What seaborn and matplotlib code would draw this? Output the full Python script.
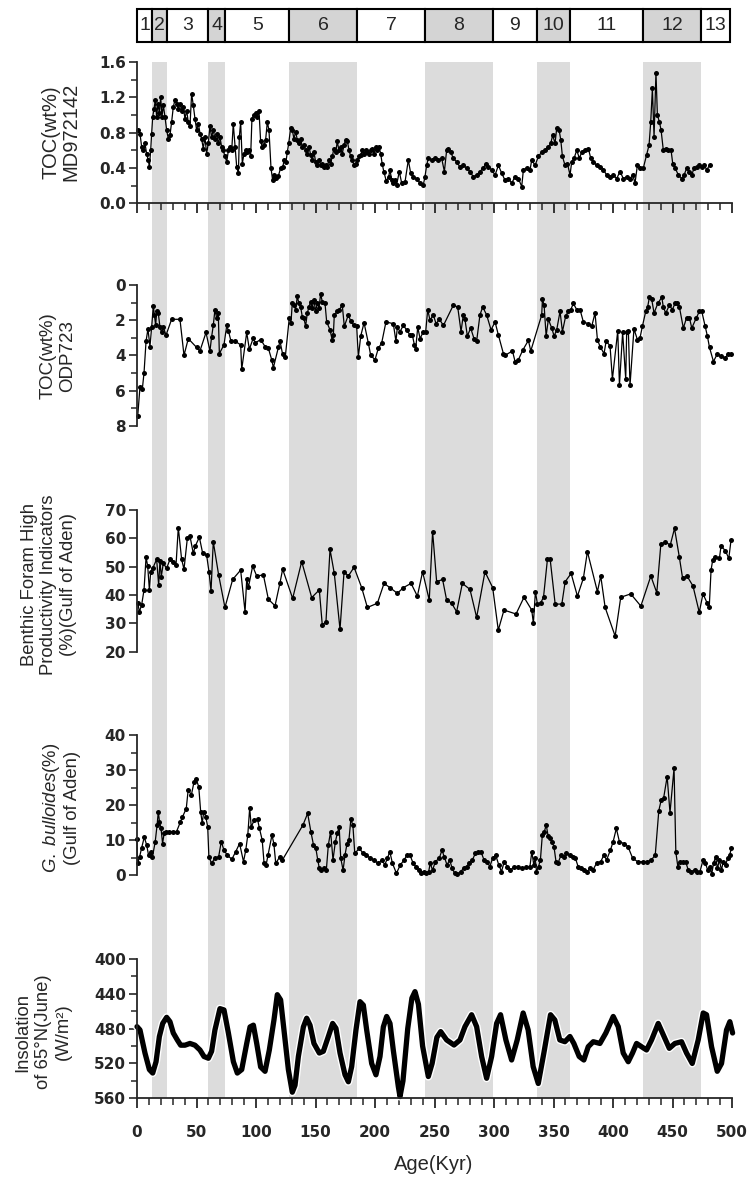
import numpy as np
import pandas as pd
import matplotlib
matplotlib.use("Agg")
import matplotlib.pyplot as plt
import matplotlib.patheffects as pe
from matplotlib.ticker import MultipleLocator
import seaborn as sns

# ---------------- data ----------------
stage_edges = [0, 13, 25, 60, 74, 128, 185, 242, 299, 336, 364, 425, 474, 498.5]
stage_labels = ["1", "2", "3", "4", "5", "6", "7", "8", "9", "10", "11", "12", "13"]
glacial_bands = [(13, 25), (60, 74), (128, 185), (242, 299), (336, 364), (425, 474)]

toc_md_age = [1.1, 2.5, 3.9, 5.3, 6.7, 8.1, 9.5, 10.4, 11.5, 12.3, 13.2, 14.3, 15.4, 16.5, 17.6, 18.8, 19.9, 21.0, 22.1, 23.5,
              24.9, 26.3, 27.7, 29.1, 30.5, 31.9, 33.3, 34.7, 36.1, 37.5, 38.9, 40.3, 41.7, 43.1, 44.5, 45.9, 47.3, 48.7, 50.1,
              51.5, 53.0, 54.3, 55.7, 57.1, 58.5, 59.9, 61.3, 62.7, 64.1, 65.5, 66.9, 68.3, 69.7, 71.1, 72.5, 73.9, 75.4, 76.8,
              78.2, 79.6, 80.9, 82.4, 83.8, 85.2, 86.0, 87.1, 88.5, 89.9, 91.3, 92.7, 94.1, 95.5, 96.6, 98.3, 100.0, 101.1,
              102.5, 103.9, 105.3, 106.7, 108.1, 109.5, 110.9, 112.6, 114.0, 115.4, 116.8, 118.8, 120.7, 122.4, 123.8, 125.2,
              126.3, 127.5, 129.1, 130.5, 131.9, 133.3, 134.7, 136.1, 137.5, 138.9, 140.3, 141.7, 143.1, 144.5, 145.9, 147.3,
              148.7, 150.1, 151.5, 153.0, 154.3, 155.7, 157.1, 158.5, 159.9, 161.3, 162.7, 164.1, 165.5, 167.0, 168.3, 169.7,
              171.1, 172.5, 173.9, 175.4, 176.8, 178.2, 179.6, 181.0, 182.4, 183.8, 185.2, 186.6, 188.0, 189.4, 190.8, 192.2,
              193.6, 195.0, 196.4, 197.8, 199.2, 200.6, 202.0, 203.4, 204.8, 206.0, 207.4, 209.5, 211.5, 212.6, 214.0, 215.4,
              217.0, 218.2, 220.4, 222.4, 225.2, 228.0, 230.0, 232.2, 235.0, 237.8, 240.6, 242.0, 243.4, 244.8, 247.6, 250.4,
              253.2, 256.0, 258.3, 260.2, 261.6, 263.6, 265.8, 268.6, 271.4, 274.2, 277.0, 279.8, 282.6, 285.4, 288.2, 291.0,
              293.3, 295.2, 298.0, 300.9, 303.7, 306.5, 309.3, 312.1, 314.9, 317.7, 320.5, 323.3, 324.7, 327.5, 330.3, 331.7,
              334.5, 337.3, 340.1, 342.9, 345.7, 347.7, 349.3, 351.3, 352.7, 354.7, 356.1, 357.5, 359.7, 361.7, 363.9, 365.3,
              367.3, 369.5, 371.8, 373.7, 376.5, 379.3, 381.3, 383.5, 386.3, 389.1, 391.9, 394.7, 397.5, 400.3, 403.1, 405.9,
              408.7, 411.5, 414.3, 416.6, 418.5, 420.5, 422.7, 425.5, 428.3, 430.3, 431.7, 433.1, 434.5, 436.1, 437.3, 439.0,
              440.4, 442.3, 444.3, 446.5, 448.8, 450.2, 452.1, 455.0, 457.8, 459.7, 462.0, 464.2, 466.2, 468.1, 470.4, 472.6,
              474.6, 476.6, 478.8, 481.1]
toc_md_val = [0.83, 0.79, 0.64, 0.60, 0.68, 0.56, 0.49, 0.41, 0.60, 0.79, 0.98, 1.07, 1.17, 0.98, 1.13, 1.02, 1.20, 0.98, 1.11, 0.98,
              0.83, 0.73, 0.77, 0.92, 1.09, 1.17, 1.13, 1.07, 1.13, 1.05, 1.09, 0.96, 1.05, 0.92, 0.87, 1.24, 1.11, 0.96, 0.83,
              0.90, 0.79, 0.73, 0.62, 0.75, 0.56, 0.68, 0.87, 0.75, 0.83, 0.73, 0.79, 0.68, 0.75, 0.64, 0.60, 0.53, 0.47, 0.60,
              0.64, 0.60, 0.90, 0.64, 0.41, 0.34, 0.75, 0.92, 0.45, 0.56, 0.60, 0.58, 0.60, 0.53, 0.96, 1.00, 1.02, 0.98,
              1.05, 0.70, 0.64, 0.66, 0.72, 0.92, 0.83, 0.40, 0.26, 0.32, 0.29, 0.31, 0.40, 0.41, 0.49, 0.47,
              0.58, 0.68, 0.85, 0.83, 0.73, 0.81, 0.72, 0.68, 0.73, 0.64, 0.66, 0.60, 0.56, 0.64, 0.55, 0.49,
              0.58, 0.47, 0.43, 0.49, 0.43, 0.45, 0.41, 0.43, 0.41, 0.49, 0.45, 0.53, 0.62, 0.58, 0.70, 0.60,
              0.64, 0.56, 0.66, 0.72, 0.70, 0.60, 0.53, 0.49, 0.43, 0.45, 0.49, 0.53, 0.55, 0.60, 0.56, 0.60,
              0.58, 0.56, 0.60, 0.62, 0.56, 0.64, 0.60, 0.64, 0.56, 0.45, 0.36, 0.25, 0.30, 0.38, 0.26, 0.23,
              0.26, 0.21, 0.36, 0.23, 0.24, 0.49, 0.34, 0.30, 0.28, 0.23, 0.21, 0.30, 0.43, 0.51, 0.49, 0.51,
              0.49, 0.51, 0.36, 0.60, 0.62, 0.58, 0.51, 0.47, 0.41, 0.43, 0.40, 0.36, 0.30, 0.32, 0.36, 0.40,
              0.45, 0.41, 0.38, 0.32, 0.43, 0.34, 0.26, 0.28, 0.23, 0.30, 0.28, 0.19, 0.38, 0.40, 0.38, 0.49,
              0.43, 0.53, 0.58, 0.60, 0.64, 0.68, 0.77, 0.68, 0.85, 0.83, 0.72, 0.53, 0.43, 0.45, 0.32, 0.47,
              0.51, 0.60, 0.51, 0.58, 0.60, 0.62, 0.51, 0.47, 0.43, 0.41, 0.38, 0.32, 0.30, 0.32, 0.28, 0.36,
              0.28, 0.30, 0.28, 0.32, 0.23, 0.43, 0.40, 0.40, 0.55, 0.66, 0.92, 1.30, 0.75, 1.48, 1.00, 0.92,
              0.83, 0.60, 0.62, 0.60, 0.60, 0.45, 0.40, 0.32, 0.28, 0.32, 0.40, 0.36, 0.32, 0.40, 0.41, 0.43,
              0.41, 0.43, 0.38, 0.43]

toc_odp_age = [0.6, 2.5, 4.5, 5.9, 7.6, 9.2, 10.9, 12.3, 13.7, 14.6, 15.7, 16.5, 17.9, 19.3, 20.7, 22.1, 24.4, 29.1, 36.1, 39.5,
               43.1, 50.1, 52.9, 58.0, 61.3, 62.7, 64.1, 65.5, 67.0, 68.3, 69.2, 73.1, 75.4, 76.8, 79.0, 82.4, 87.1, 88.0, 92.2,
               94.4, 97.8, 99.2, 103.9, 107.6, 110.4, 113.2, 114.6, 118.8, 120.2, 122.4, 124.6, 128.0, 129.4, 130.5, 131.9,
               133.3, 134.7, 136.1, 137.5, 138.9, 140.3, 141.7, 143.1, 144.5, 145.9, 147.3, 148.7, 150.1, 151.5, 153.0, 154.3,
               155.7, 158.0, 159.4, 162.2, 164.1, 165.0, 165.8, 168.3, 170.0, 172.5, 174.2, 177.6, 179.6, 182.4, 184.6, 186.0,
               188.0, 190.8, 194.4, 196.4, 200.0, 202.8, 205.6, 209.2, 215.4, 217.6, 218.8, 221.0, 223.8, 226.6, 229.4, 231.4,
               233.1, 234.2, 235.9, 237.9, 240.6, 242.6, 244.3, 246.2, 249.0, 251.3, 254.1, 257.5, 265.8, 269.5, 272.3, 274.2,
               275.6, 277.6, 280.4, 283.2, 285.4, 288.2, 290.5, 293.8, 297.5, 300.9, 303.7, 307.9, 309.3, 315.5, 317.7, 320.5,
               324.2, 328.9, 330.9, 340.1, 340.7, 342.1, 343.8, 345.7, 348.5, 350.5, 352.7, 355.5, 357.5, 360.3, 362.5, 364.5,
               366.7, 369.5, 372.3, 375.1, 379.3, 382.1, 384.9, 386.9, 389.1, 392.5, 394.2, 397.5, 399.5, 404.0, 405.4, 408.1,
               410.7, 411.5, 412.9, 414.3, 417.6, 420.5, 422.7, 424.7, 427.5, 429.1, 430.6, 432.5, 434.5, 437.6, 441.0, 442.3,
               444.3, 447.4, 449.9, 452.1, 453.5, 455.8, 459.1, 461.9, 464.2, 466.2, 469.8, 472.6, 474.6, 477.4, 479.3, 481.1,
               484.4, 487.8, 490.6, 494.3, 497.0, 499.5]
toc_odp_val = [7.45, 5.8, 5.9, 5.0, 3.2, 2.5, 3.5, 2.4, 1.2, 1.7, 2.3, 1.5, 1.6, 2.4, 2.7, 2.4, 2.85, 1.95, 1.95, 4.0,
               3.05, 3.55, 3.75, 2.7, 3.75, 2.95, 2.3, 1.4, 1.9, 1.6, 3.9, 3.4, 2.3, 2.6, 3.2, 3.2, 3.4, 4.8, 2.7,
               3.65, 3.0, 3.3, 3.1, 3.5, 3.6, 4.25, 4.7, 3.55, 3.2, 3.95, 4.1, 1.85, 2.15, 1.0, 1.15,
               1.4, 0.65, 1.05, 1.25, 1.8, 1.9, 2.35, 1.6, 1.25, 0.95, 1.3, 0.85, 1.5, 1.05, 1.3, 0.5,
               0.95, 1.05, 2.1, 2.55, 3.15, 2.85, 1.7, 1.5, 1.4, 1.15, 2.35, 1.7, 2.05, 2.3, 2.35, 4.1,
               2.9, 2.15, 3.3, 4.0, 4.25, 3.6, 3.3, 2.1, 2.2, 3.2, 2.4, 2.65, 2.3, 2.55, 2.85, 2.85,
               3.4, 3.65, 2.4, 3.05, 2.65, 2.65, 1.4, 2.0, 1.7, 2.2, 1.95, 2.3, 1.15, 1.25, 2.65, 1.7,
               1.95, 2.9, 2.45, 3.05, 3.2, 1.7, 1.25, 1.7, 2.55, 2.1, 2.85, 3.9, 4.0, 3.75, 4.35, 4.25,
               3.7, 3.15, 3.75, 1.7, 0.8, 1.15, 2.9, 1.95, 2.45, 2.9, 2.55, 1.5, 2.65, 1.75, 1.5, 1.4,
               1.05, 1.4, 1.4, 2.1, 2.2, 2.35, 1.6, 3.1, 3.5, 3.9, 3.2, 3.45, 5.35, 2.6, 5.7, 2.7,
               5.35, 2.65, 2.6, 5.7, 2.5, 3.1, 3.0, 2.35, 1.5, 1.25, 0.7, 0.8, 1.6, 1.05, 0.7, 1.25,
               1.6, 1.15, 1.4, 1.05, 1.05, 1.25, 2.45, 1.85, 1.85, 2.45, 1.9, 1.5, 1.5, 2.35, 2.9, 3.55,
               4.35, 3.9, 4.05, 4.15, 3.9, 3.95]

benthic_age = [0.6, 2.0, 3.9, 5.9, 7.6, 9.0, 10.4, 11.5, 13.2, 16.5, 18.2, 19.3, 20.4, 22.1, 24.9, 27.7, 30.5, 32.8, 34.7, 37.5,
               39.5, 42.3, 44.5, 47.3, 49.0, 52.4, 55.2, 58.5, 60.5, 62.2, 64.1, 68.6, 73.9, 80.4, 87.1, 90.8, 92.2, 93.6, 97.2,
               100.6, 106.2, 110.4, 116.0, 120.2, 122.4, 130.8, 138.4, 146.8, 153.2, 155.7, 158.8, 162.2, 165.8, 170.6, 174.0,
               177.6, 182.4, 188.8, 193.6, 202.0, 207.6, 212.6, 218.8, 223.8, 230.3, 235.6, 240.0, 245.6, 248.4, 251.8, 256.8,
               260.2, 264.4, 268.6, 273.4, 279.8, 285.4, 292.4, 298.9, 303.6, 308.4, 318.5, 325.2, 331.7, 333.1, 334.8, 336.5,
               339.3, 341.6, 344.9, 347.2, 351.4, 357.0, 359.8, 364.8, 370.1, 375.1, 378.5, 386.9, 389.7, 393.4, 401.8, 406.5,
               414.9, 423.4, 431.8, 436.8, 440.2, 443.9, 448.1, 451.7, 455.7, 458.5, 462.2, 467.2, 472.5, 475.6, 479.0, 480.9,
               482.4, 483.8, 486.0, 489.4, 490.8, 494.5, 497.3, 499.2]
benthic_val = [37.3, 34.1, 36.5, 41.8, 53.3, 50.2, 41.8, 48.2, 49.4, 52.6, 43.5, 52.1, 46.5, 51.2, 49.4, 52.6, 51.8, 50.6, 63.8, 52.6,
               49.1, 60.0, 60.8, 54.7, 57.3, 60.4, 54.7, 54.1, 48.2, 41.4, 58.8, 47.1, 35.6, 45.5, 48.8, 34.1, 45.6, 42.7, 50.2,
               46.7, 47.1, 38.5, 36.2, 44.4, 49.1, 38.8, 51.8, 39.1, 41.8, 29.4, 30.6, 56.1, 47.6, 27.9, 48.2,
               46.7, 49.8, 42.6, 35.6, 37.1, 44.1, 42.6, 40.6, 42.6, 44.1, 39.6, 48.2, 38.2, 62.4, 44.7, 45.5,
               38.2, 37.1, 34.1, 44.1, 42.0, 32.1, 48.2, 42.6, 27.6, 34.7, 33.3, 39.2, 34.7, 30.0, 41.2, 36.8,
               37.3, 39.2, 52.6, 52.6, 36.8, 36.8, 44.7, 47.6, 39.6, 45.9, 55.3, 41.2, 46.7, 35.6, 25.5, 39.2,
               40.4, 36.1, 46.7, 40.8, 57.9, 58.8, 57.6, 63.5, 53.5, 45.9, 46.7, 43.2, 33.9, 40.4, 37.3, 35.9,
               48.8, 52.4, 53.5, 52.9, 57.3, 55.6, 52.9, 59.4]

bulloides_age = [0.0, 0.5, 2.2, 3.8, 6.1, 8.1, 9.7, 12.0, 13.0, 15.3, 16.9, 17.9, 18.9, 20.2, 21.5, 22.8, 24.4, 26.7, 30.0, 33.2,
                 36.5, 38.1, 41.4, 43.0, 45.7, 48.0, 49.6, 51.9, 53.5, 54.8, 56.1, 57.8, 59.4, 60.4, 62.7, 65.3, 68.6, 70.8, 73.1,
                 75.8, 79.7, 83.0, 86.2, 89.5, 91.4, 93.1, 94.7, 96.0, 98.6, 101.3, 102.9, 105.2, 106.8, 108.5, 110.1, 113.4,
                 115.0, 116.6, 119.9, 122.2, 139.5, 143.4, 146.1, 148.3, 150.3, 151.9, 153.2, 154.9, 157.5, 159.1, 160.8, 162.7,
                 164.7, 166.7, 168.3, 169.9, 171.2, 173.2, 174.8, 176.5, 178.1, 179.7, 181.4, 183.0, 186.9, 189.5, 192.8, 196.1,
                 199.4, 202.6, 205.9, 208.2, 210.5, 212.4, 214.7, 218.0, 221.3, 224.5, 226.8, 229.4, 232.1, 234.3, 236.6, 238.6,
                 240.9, 243.2, 245.1, 246.4, 248.4, 250.7, 254.0, 256.3, 258.2, 260.5, 262.8, 264.8, 267.0, 269.3, 271.9, 274.6,
                 276.9, 279.1, 281.8, 284.4, 286.7, 289.0, 291.6, 294.2, 296.5, 298.8, 301.4, 304.0, 306.3, 308.6, 311.2, 313.8,
                 317.1, 320.3, 323.6, 326.9, 330.2, 331.8, 333.4, 334.7, 335.7, 337.4, 339.0, 340.6, 342.3, 343.9, 345.5, 347.2,
                 348.8, 350.4, 352.1, 353.7, 356.3, 358.6, 360.9, 363.5, 366.1, 368.4, 370.7, 373.3, 375.9, 378.2, 380.8, 383.1,
                 386.4, 389.7, 392.3, 394.6, 397.8, 400.1, 402.8, 405.4, 409.3, 412.6, 416.5, 420.7, 425.0, 428.9, 432.2, 435.5,
                 438.5, 440.5, 442.5, 445.5, 447.9, 451.3, 452.8, 454.5, 456.0, 458.7, 461.0, 463.3, 465.9, 468.5, 470.8, 473.1,
                 475.7, 477.7, 479.6, 481.6, 482.9, 484.5, 486.2, 487.8, 489.4, 491.1, 492.7, 494.7, 496.3, 498.0, 499.5]
bulloides_val = [10.2, 3.3, 5.2, 7.6, 10.8, 8.6, 5.7, 6.7, 5.2, 9.5, 14.3, 18.1, 15.2, 13.3, 9.0, 11.9, 12.4, 12.4, 12.4, 12.4,
                 15.2, 16.5, 19.0, 24.3, 22.9, 26.7, 27.5, 25.2, 18.1, 14.8, 18.1, 16.7, 13.8, 5.2, 3.3, 4.8, 5.2, 9.5, 7.1,
                 5.7, 4.5, 6.7, 9.0, 3.8, 7.1, 11.4, 19.2, 13.8, 15.7, 15.9, 13.3, 10.0, 3.3, 2.9, 5.7, 11.4,
                 9.0, 3.3, 5.2, 4.3, 14.3, 17.6, 12.4, 8.6, 7.6, 4.3, 1.9, 1.4, 1.9, 1.4, 8.6, 12.4,
                 4.3, 9.5, 11.9, 13.8, 4.8, 1.4, 5.7, 9.0, 10.0, 15.9, 14.3, 6.2, 7.6, 6.4, 5.7, 4.8,
                 4.3, 3.3, 4.3, 2.9, 4.8, 6.7, 3.3, 0.5, 2.9, 4.3, 5.7, 5.7, 3.3, 2.4, 1.4, 0.5,
                 1.0, 0.5, 1.0, 3.3, 1.4, 3.8, 4.8, 7.1, 5.2, 2.9, 4.3, 1.9, 0.5, 0.2, 1.0, 1.9,
                 2.4, 3.3, 4.3, 6.2, 6.7, 6.7, 4.3, 3.8, 2.4, 4.8, 5.7, 2.9, 1.0, 3.8, 2.4, 1.4,
                 2.4, 2.2, 1.9, 2.2, 2.4, 6.7, 2.9, 4.8, 1.0, 2.4, 4.3, 11.4, 12.4, 14.3, 11.1, 10.5,
                 9.5, 8.1, 3.8, 3.3, 5.7, 5.2, 6.2, 5.7, 5.2, 4.8, 2.4, 1.9, 1.4, 1.0, 1.9, 1.4,
                 3.5, 3.8, 5.7, 4.3, 7.1, 9.5, 13.3, 9.5, 9.0, 8.1, 4.8, 3.8, 3.8, 3.8, 4.3, 5.7,
                 18.4, 21.4, 21.9, 28.1, 17.8, 30.5, 6.5, 2.4, 3.8, 3.8, 3.8, 1.4, 1.0, 1.4, 1.0, 1.0,
                 4.3, 3.3, 1.4, 2.4, 0.2, 3.3, 5.2, 1.9, 4.3, 1.4, 3.8, 2.9, 4.8, 5.7, 7.6]

insol_age = [0, 2.5, 6.7, 10.4, 13.2, 16, 18.8, 21.6, 24.9, 27.7, 30.5, 33.9, 36.7, 40.3, 44.5, 48.7, 52.9, 56.3, 60, 62.7,
             65.5, 69.7, 73.1, 76.8, 81, 84.3, 88, 92.2, 95, 97.8, 100.6, 103.9, 107.6, 111.2, 115.1, 117.9, 120.7, 123.5,
             127.2, 130.5, 132.8, 135.6, 139.8, 142.6, 145.4, 148.7, 153.2, 156.6, 160.8, 164.4, 167.2, 170.6, 174.8, 177.6,
             180.4, 184, 187.4, 190.2, 193, 197.2, 200.8, 204.2, 207, 209.8, 212.6, 215.4, 219.6, 221, 223.5, 227.5, 231,
             233.6, 236.5, 240, 244.8, 248, 252, 255.2, 260.2, 266.4, 271.4, 275.6, 281.2, 285.4, 289.6, 293.8, 298, 302.2,
             305.5, 310, 314.8, 319.5, 324.5, 328.7, 332.9, 337.2, 341.9, 347.5, 351.1, 355.3, 359.6, 363.8, 367.1, 371.6,
             375.5, 379.2, 383.4, 389, 394, 400.2, 404.4, 408.6, 412.8, 416.4, 419.8, 424, 428.2, 432.4, 438, 442.2, 447.3,
             452, 457.6, 461.8, 466.6, 471.6, 475.8, 478.6, 482.8, 487.6, 491.2, 495.4, 498.2, 500.5]
insol_val = [477.7, 481.5, 508, 527, 531, 518, 489, 474, 467, 472, 485, 493, 499, 499, 497, 499, 504.5, 512, 514, 506,
             481.5, 457, 458.5, 485, 518, 531, 527, 497, 478, 476, 497, 524, 529, 504.5, 470, 441, 447, 481.5,
             527, 553, 545, 512, 478, 468, 476, 497, 508, 506, 489, 474, 479.6, 508, 533, 541,
             523.6, 481.5, 449, 453, 481.5, 520, 533, 512, 478, 466, 474, 505, 546.6, 558, 540, 480, 445,
             437.5, 452, 500, 535, 520, 490, 483.4, 493, 498.8, 493, 477.7, 464, 477.7, 512, 537, 512, 474,
             464, 493, 516, 493, 462, 481.5, 523.6, 543, 508, 464, 470, 493, 495, 489, 497, 512,
             516, 500.7, 495, 497, 485, 466, 477.7, 508, 518, 508, 497, 500.7, 504.5, 493, 474, 487, 502.6,
             497, 495, 508, 520, 493, 462, 464, 500.7, 529, 520, 481.5, 472, 485]

age_ticks = [0, 50, 100, 150, 200, 250, 300, 350, 400, 450, 500]

# ---------------- style ----------------
sns.set_style("ticks")
plt.rcParams["font.family"] = ["Liberation Sans", "DejaVu Sans"]
plt.rcParams["mathtext.fontset"] = "custom"
plt.rcParams["mathtext.it"] = "Liberation Sans:italic"
plt.rcParams["mathtext.rm"] = "Liberation Sans"
plt.rcParams["axes.linewidth"] = 1.3

W_PX, H_PX = 749, 1178
fig = plt.figure(figsize=(W_PX / 100, H_PX / 100), dpi=100)
fig.patch.set_facecolor("white")

X0, X1 = 137, 732
TICK_FONT = dict(fontweight="bold", fontsize=11, fontfamily="DejaVu Sans")


def rect(top, bottom):
    return [X0 / W_PX, 1 - bottom / H_PX, (X1 - X0) / W_PX, (bottom - top) / H_PX]


BAND = "#dcdcdc"

# background bands through all panels
bg = fig.add_axes(rect(62, 1098.3), zorder=0)
bg.set_xlim(0, 500)
bg.set_ylim(0, 1)
for a, b in glacial_bands:
    bg.axvspan(a, b, color=BAND, lw=0)
bg.axis("off")

# stage boxes on top
st = fig.add_axes(rect(8.6, 42), zorder=1)
st.set_xlim(0, 500)
st.set_ylim(0, 1)
lefts = stage_edges[:-1]
widths = [stage_edges[i + 1] - stage_edges[i] for i in range(len(lefts))]
cols = ["#d4d4d4" if int(s) % 2 == 0 else "white" for s in stage_labels]
st.bar(lefts, [1] * len(lefts), width=widths, align="edge", color=cols,
       edgecolor="black", linewidth=1.5, clip_on=False)
for l, w, s in zip(lefts, widths, stage_labels):
    st.text(l + w / 2, 0.48, s, ha="center", va="center", fontsize=14)
st.axis("off")

LINE_KW = dict(color="black", linewidth=0.9, marker="o", markersize=3.6,
               markeredgewidth=0, clip_on=False)


def style_panel(ax, ylim, yticks, ylabels, minor=None, bottom=False, xlabels=False):
    ax.set_facecolor("none")
    ax.set_xlim(0, 500)
    ax.set_ylim(*ylim)
    ax.set_xlabel("")
    ax.set_ylabel("")
    for s in ["top", "right"]:
        ax.spines[s].set_visible(False)
    ax.spines["left"].set_linewidth(1.3)
    ax.set_yticks(yticks, ylabels, **TICK_FONT)
    if minor is not None:
        ax.yaxis.set_minor_locator(MultipleLocator(minor))
    ax.tick_params(axis="y", which="major", direction="out", length=6, width=1.2, pad=2)
    ax.tick_params(axis="y", which="minor", direction="out", length=4, width=1.1)
    if bottom:
        ax.spines["bottom"].set_linewidth(1.3)
        ax.xaxis.set_minor_locator(MultipleLocator(10))
        if xlabels:
            ax.set_xticks(age_ticks, [str(t) for t in age_ticks], **TICK_FONT)
        else:
            ax.set_xticks(age_ticks, [""] * len(age_ticks))
        ax.tick_params(axis="x", which="major", direction="out", length=7, width=1.3, pad=12)
        ax.tick_params(axis="x", which="minor", direction="out", length=5, width=1.1)
    else:
        ax.spines["bottom"].set_visible(False)
        ax.set_xticks([])
        ax.xaxis.set_minor_locator(plt.NullLocator())


# Panel 1
ax1 = fig.add_axes(rect(62, 203.3), zorder=2)
sns.lineplot(x=toc_md_age, y=toc_md_val, ax=ax1, sort=False, estimator=None, **LINE_KW)
style_panel(ax1, (0, 1.6), [0, 0.4, 0.8, 1.2, 1.6], ["0.0", "0.4", "0.8", "1.2", "1.6"],
            minor=0.2, bottom=True)

# Panel 2
ax2 = fig.add_axes(rect(285, 425.7), zorder=2)
sns.lineplot(x=toc_odp_age, y=toc_odp_val, ax=ax2, sort=False, estimator=None, **LINE_KW)
style_panel(ax2, (8, 0), [0, 2, 4, 6, 8], ["0", "2", "4", "6", "8"], minor=1)

# Panel 3
ax3 = fig.add_axes(rect(510, 651.7), zorder=2)
sns.lineplot(x=benthic_age, y=benthic_val, ax=ax3, sort=False, estimator=None, **LINE_KW)
style_panel(ax3, (20, 70), [20, 30, 40, 50, 60, 70], ["20", "30", "40", "50", "60", "70"])

# Panel 4
ax4 = fig.add_axes(rect(735, 875), zorder=2)
sns.lineplot(x=bulloides_age, y=bulloides_val, ax=ax4, sort=False, estimator=None, **LINE_KW)
style_panel(ax4, (0, 40), [0, 10, 20, 30, 40], ["0", "10", "20", "30", "40"], minor=5)

# Panel 5
ax5 = fig.add_axes(rect(959, 1098.3), zorder=2)
sns.lineplot(x=insol_age, y=insol_val, ax=ax5, sort=False, estimator=None, color="black",
             linewidth=3.8, solid_joinstyle="round", solid_capstyle="round", clip_on=False,
             path_effects=[pe.Stroke(linewidth=5.8, foreground="white"), pe.Normal()])
style_panel(ax5, (560, 400), [400, 440, 480, 520, 560], ["400", "440", "480", "520", "560"],
            minor=20, bottom=True, xlabels=True)


def ylab(x, y, s, fs=13.5, ls=1.15):
    fig.text(x / W_PX, 1 - y / H_PX, s, rotation=90, ha="center", va="center",
             multialignment="center", fontsize=fs, linespacing=ls)


ylab(61, 132, "TOC(wt%)\nMD972142", fs=14.5, ls=1.05)
ylab(58, 356, "TOC(wt%)\nODP723", fs=13.5)
ylab(49, 585, "Benthic Foram High\nProductivity Indicators\n(%)(Gulf of Aden)", fs=13.3, ls=1.2)
ylab(61, 808, r"$\mathit{G.\ bulloides}$(%)" + "\n(Gulf of Aden)", fs=13.3, ls=1.2)
ylab(43, 1032, "Insolation\nof 65°N(June)\n(W/m²)", fs=13.3, ls=1.25)

fig.text(434 / W_PX, 1 - 1165 / H_PX, "Age(Kyr)", ha="center", va="center", fontsize=14.5)

fig.savefig("out.png", dpi=100, facecolor="white")
